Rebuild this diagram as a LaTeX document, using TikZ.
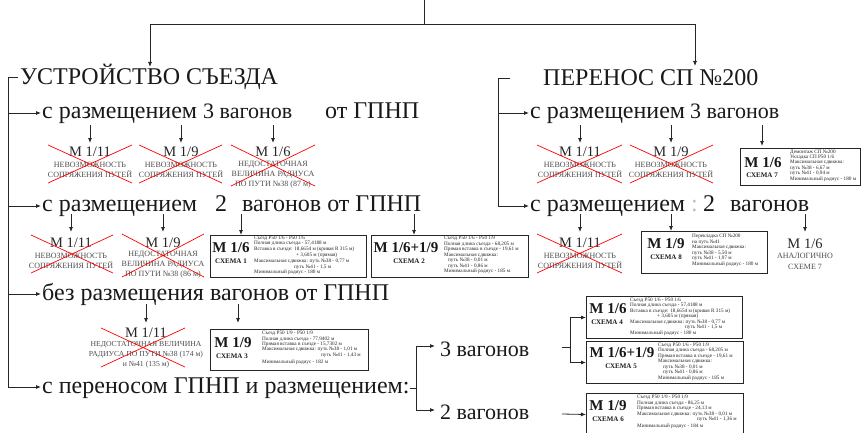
\documentclass[tikz,border=0pt]{standalone}
\usepackage{fontspec}
\setmainfont{Liberation Serif}
\usetikzlibrary{arrows.meta,calc}
\tikzset{
 arr/.style={-{Latex[length=5pt,width=4pt]}, line width=0.8pt, draw=black!85},
 ln/.style={line width=0.8pt, draw=black!85},
 hd/.style={font=\fontsize{24}{28}\selectfont, inner sep=0, anchor=base west, text=black!90},
 rowt/.style={font=\fontsize{24}{28}\selectfont, inner sep=0, anchor=base west, text=black!90},
 rows/.style={font=\fontsize{22}{26}\selectfont, inner sep=0, anchor=base west, text=black!90},
 xt/.style={font=\fontsize{14.5}{16}\selectfont, inner sep=0, anchor=base, text=black!85},
 xs/.style={font=\fontsize{8}{10.5}\selectfont, inner sep=0, anchor=north, text=black!70, align=center},
 xcross/.style={draw=red, line width=0.7pt},
 sbox/.style={draw=black!85, line width=1pt, inner sep=0, anchor=north west},
 bm/.style={font=\fontsize{15}{17}\selectfont\bfseries, inner sep=0, anchor=base, text=black!90},
 bs/.style={font=\fontsize{7}{8}\selectfont\bfseries, inner sep=0, anchor=base, text=black!90},
 st/.style={font=\fontsize{5.2}{5.8}\selectfont, inner sep=0, anchor=north west, align=left, text=black!85},
}
\begin{document}
\begin{tikzpicture}[x=1pt,y=-1pt]
\useasboundingbox (0,0) rectangle (861,433);

% ---------- headers ----------
\node[hd] (hdL) at (20,85) {УСТРОЙСТВО СЪЕЗДА};
\node[hd] (hdR) at (543,86) {ПЕРЕНОС СП №200};

\coordinate (t0) at (424,0);
\coordinate (t1) at (424,24);
\coordinate (tL) at (150,67);
\coordinate (tR) at (695,66);
\draw[ln] (t0) -- (t1);
\draw[arr] (t1) -| (tL);
\draw[arr] (t1) -| (tR);

% ---------- row texts ----------
\node[rowt] (L1a) at (42,118) {с размещением};
\node[rows] (L1b) at (203,118) {3 вагонов};
\node[rowt] (L1c) at (325,118) {от ГПНП};

\node[rowt] (L2a) at (42,211) {с размещением};
\node[rowt] (L2b) at (215,211) {2};
\node[rowt] (L2c) at (242,211) {вагонов от ГПНП};

\node[rowt] (L3a) at (42,300) {без размещения вагонов от ГПНП};
\node[rowt] (L4a) at (42,393) {с переносом ГПНП и размещением:};

\node[rowt] (R1a) at (530,118) {с размещением};
\node[rows] (R1b) at (690,118) {3 вагонов};

\node[rowt] (R2a) at (530,211) {с размещением};
\node[rowt, text=black!25] (R2c) at (691,211) {:};
\node[rowt] (R2b) at (703,211) {2};
\node[rowt] (R2d) at (730,211) {вагонов};

\node[rows] (v3) at (440,356) {3 вагонов};
\node[rows] (v2) at (440,419) {2 вагонов};

% ---------- brackets ----------
\coordinate (yA) at (0,113);
\coordinate (yB) at (0,206);
\coordinate (yC) at (0,294);
\coordinate (yD) at (0,387);
\coordinate (bL) at (8,77);
\draw[ln, shorten >=2pt] (bL) -- (bL -| hdL.west);
\draw[arr, shorten >=1pt] (bL |- yA) -- (L1a.west |- yA);
\draw[arr, shorten >=1pt] (bL |- yB) -- (L2a.west |- yB);
\draw[arr, shorten >=1pt] (bL |- yC) -- (L3a.west |- yC);
\draw[arr, shorten >=1pt] (bL) |- (L4a.west |- yD);

\coordinate (bR) at (498,78);
\draw[ln] (bR) -- ++(12,0);
\draw[arr, shorten >=1pt] (bR |- yA) -- (R1a.west |- yA);
\draw[arr, shorten >=1pt] (bR) |- (R2a.west |- yB);

% ---------- crossed items, row 1 ----------
\node[xt] (cL1a) at (90,156) {М 1/11};
\node[xs] (nL1a) at (90,161.5) {НЕВОЗМОЖНОСТЬ\\СОПРЯЖЕНИЯ ПУТЕЙ};
\draw[xcross] (48,145) -- (132,183) (48,183) -- (132,145);

\node[xt] (cL1b) at (181,156) {М 1/9};
\node[xs] (nL1b) at (181,161.5) {НЕВОЗМОЖНОСТЬ\\СОПРЯЖЕНИЯ ПУТЕЙ};
\draw[xcross] (139,145) -- (222,183) (139,183) -- (222,145);

\node[xt] (cL1c) at (273,156) {М 1/6};
\node[xs, font=\fontsize{8}{10}\selectfont] (nL1c) at (273,161) {НЕДОСТАТОЧНАЯ\\ВЕЛИЧИНА РАДИУСА\\ПО ПУТИ №38 (87 м)};
\draw[xcross] (231,145) -- (315,186) (231,186) -- (315,145);

\node[xt] (cR1a) at (580,156) {М 1/11};
\node[xs] (nR1a) at (580,161.5) {НЕВОЗМОЖНОСТЬ\\СОПРЯЖЕНИЯ ПУТЕЙ};
\draw[xcross] (537,145) -- (622,183) (537,183) -- (622,145);

\node[xt] (cR1b) at (671,156) {М 1/9};
\node[xs] (nR1b) at (671,161.5) {НЕВОЗМОЖНОСТЬ\\СОПРЯЖЕНИЯ ПУТЕЙ};
\draw[xcross] (630,145) -- (713,183) (630,183) -- (713,145);

% ---------- crossed items, row 2 ----------
\node[xt] (cL2a) at (71,247) {М 1/11};
\node[xs] (nL2a) at (71,252.5) {НЕВОЗМОЖНОСТЬ\\СОПРЯЖЕНИЯ ПУТЕЙ};
\draw[xcross] (31,235) -- (113,273) (31,273) -- (113,235);

\node[xt] (cL2b) at (163,247) {М 1/9};
\node[xs, font=\fontsize{8}{10}\selectfont] (nL2b) at (163,251) {НЕДОСТАТОЧНАЯ\\ВЕЛИЧИНА РАДИУСА\\ПО ПУТИ №38 (86 м)};
\draw[xcross] (122,234) -- (204,277) (122,277) -- (204,234);

\node[xt] (cR2a) at (580,247) {М 1/11};
\node[xs] (nR2a) at (580,252.5) {НЕВОЗМОЖНОСТЬ\\СОПРЯЖЕНИЯ ПУТЕЙ};
\draw[xcross] (537,234) -- (622,273) (537,273) -- (622,234);

\node[xt] (cR2c) at (805,248) {М 1/6};
\node[xs] (nR2c) at (805,253.5) {АНАЛОГИЧНО\\СХЕМЕ 7};

% ---------- crossed item, row 3 ----------
\node[xt] (cL3a) at (146,337) {М 1/11};
\node[xs, font=\fontsize{7.7}{9.8}\selectfont] (nL3a) at (146,341.5) {НЕДОСТАТОЧНАЯ ВЕЛИЧИНА\\РАДИУСА ПО ПУТИ №38 (174 м)\\и №41 (135 м)};
\draw[xcross] (101,328) -- (185,367) (101,367) -- (185,328);

% ---------- scheme boxes ----------
% Scheme 1
\node[sbox, minimum width=156, minimum height=42] (s1) at (210,235) {};
\node[bm] (m1) at (231,252) {М 1/6};
\node[bs] (k1) at (231,263) {СХЕМА 1};
\node[st] (t1b) at (254,235.5) {Съезд Р50 1/6 - Р50 1/6\\Полная длина съезда - 57,4188 м\\Вставка в съезде: 18,6654 м (кривая R 315 м)\\\hspace*{42pt}+ 3,605 м (прямая)\\Максимальная сдвижка: путь №38 - 0,77 м\\\hspace*{40pt}путь №41 - 1,5 м\\Минимальный радиус - 180 м};

% Scheme 2
\node[sbox, minimum width=157, minimum height=42] (s2) at (371,235) {};
\node[bm] (m2) at (406,252) {М 1/6+1/9};
\node[bs] (k2) at (409,263) {СХЕМА 2};
\node[st, font=\fontsize{5.2}{5.5}\selectfont] (t2b) at (444,236) {Съезд Р50 1/6 - Р50 1/9\\Полная длина съезда - 68,205 м\\Прямая вставка в съезде - 19,61 м\\Максимальная сдвижка:\\\hspace*{4pt}путь №38 - 0,01 м\\\hspace*{4pt}путь №41 - 0,86 м\\Минимальный радиус - 185 м};

% Scheme 3
\node[sbox, minimum width=158, minimum height=41] (s3) at (210,329) {};
\node[bm] (m3) at (233,347) {М 1/9};
\node[bs] (k3) at (232,358) {СХЕМА 3};
\node[st, font=\fontsize{5.2}{5.4}\selectfont] (t3b) at (262,331) {Съезд Р50 1/9 - Р50 1/9\\Полная длина съезда - 77,9402 м\\Прямая вставка в съезде - 15,7302 м\\Максимальная сдвижка: путь №38 - 1,01 м\\\hspace*{59pt}путь №41 - 1,43 м\\[1.5pt]Минимальный радиус - 182 м};

% Scheme 4
\node[sbox, minimum width=156, minimum height=42] (s4) at (586,296) {};
\node[bm] (m4) at (608,313) {М 1/6};
\node[bs] (k4) at (607,324) {СХЕМА 4};
\node[st, font=\fontsize{5.2}{5.5}\selectfont] (t4b) at (630,297.5) {Съезд Р50 1/6 - Р50 1/6\\Полная длина съезда - 57,4188 м\\Вставка в съезде: 18,6654 м (кривая R 315 м)\\\hspace*{27pt}+ 3,605 м (прямая)\\Максимальная сдвижка: путь №38 - 0,77 м\\\hspace*{55pt}путь №41 - 1,5 м\\Минимальный радиус - 180 м};

% Scheme 5
\node[sbox, minimum width=157, minimum height=42] (s5) at (586,341) {};
\node[bm] (m5) at (622,357) {М 1/6+1/9};
\node[bs] (k5) at (621,368) {СХЕМА 5};
\node[st, font=\fontsize{5.2}{5.5}\selectfont] (t5b) at (658,342.5) {Съезд Р50 1/6 - Р50 1/9\\Полная длина съезда - 68,205 м\\Прямая вставка в съезде - 19,61 м\\Максимальная сдвижка:\\\hspace*{5pt}путь №38 - 0,01 м\\\hspace*{5pt}путь №41 - 0,86 м\\Минимальный радиус - 185 м};

% Scheme 6
\node[sbox, minimum width=157, minimum height=42] (s6) at (586,393) {};
\node[bm] (m6) at (608,410) {М 1/9};
\node[bs] (k6) at (608,421) {СХЕМА 6};
\node[st, font=\fontsize{5.2}{5.5}\selectfont] (t6b) at (637,395) {Съезд Р50 1/9 - Р50 1/9\\Полная длина съезда - 86,25 м\\Прямая вставка в съезде - 24,13 м\\Максимальная сдвижка: путь №38 - 0,01 м\\\hspace*{60pt}путь №41 - 1,36 м\\[1.5pt]Минимальный радиус - 184 м};

% Scheme 7
\node[sbox, minimum width=120, minimum height=37] (s7) at (740,148) {};
\node[bm] (m7) at (763,167) {М 1/6};
\node[bs] (k7) at (762,177) {СХЕМА 7};
\node[st, font=\fontsize{5.2}{5.4}\selectfont] (t7b) at (790,149.5) {Демонтаж СП №200\\Укладка СП Р50 1/6\\Максимальная сдвижка:\\путь №38 - 6,67 м\\путь №41 - 0,94 м\\Минимальный радиус - 180 м};

% Scheme 8
\node[sbox, minimum width=126, minimum height=42] (s8) at (641,231) {};
\node[bm] (m8) at (666,248) {М 1/9};
\node[bs] (k8) at (666,259) {СХЕМА 8};
\node[st, font=\fontsize{5.2}{5.5}\selectfont] (t8b) at (692,234) {Перекладка СП №200\\на путь №41\\Максимальная сдвижка:\\путь №38 - 5,50 м\\путь №41 - 1,97 м\\Минимальный радиус - 180 м};

% ---------- down arrows ----------
\coordinate (dA) at (0,125);
\coordinate (eA) at (0,143);
\coordinate (dB) at (0,214);
\coordinate (eB) at (0,232);
\coordinate (dC) at (0,304);
\coordinate (eC) at (0,323);
\foreach \n in {cL1a,cL1b,cL1c,cR1a,cR1b} \draw[arr] (\n |- dA) -- (\n |- eA);
\foreach \n in {cL2a,cL2b,cR2a,cR2c} \draw[arr] (\n |- dB) -- (\n |- eB);
\draw[arr] (cL3a |- dC) -- (cL3a |- eC);

\coordinate (a1) at ($(s1.north west)+(31,0)$);
\coordinate (a2) at ($(s2.north west)+(43,0)$);
\coordinate (a3) at ($(s3.north west)+(28,0)$);
\coordinate (a7) at ($(s7.north west)+(22,0)$);
\coordinate (a8) at ($(s8.north west)+(30,0)$);
\draw[arr] (a1 |- dB) -- (a1);
\draw[arr] (a2 |- dB) -- (a2);
\draw[arr] (a8 |- dB) -- (a8);
\draw[arr] (a3 |- dC) -- (a3 |- eC);
\draw[arr, shorten >=2pt] (a7 |- dA) -- (a7);

% ---------- bottom branches ----------
\coordinate (j4) at (416,388);
\coordinate (yv3) at (0,346);
\coordinate (yv2) at (0,410);
\draw[ln] (L4a.east |- j4) -- (j4);
\draw[arr, shorten >=5pt] (j4) |- (v3.west |- yv3);
\draw[arr, shorten >=5pt] (j4) |- (v2.west |- yv2);

\coordinate (k3a) at (562,347);
\coordinate (k3b) at (570,347);
\draw[ln] (k3a) -- (k3b);
\draw[arr] (k3b) |- (s4.west);
\draw[arr] (k3b) |- (s5.west);
\coordinate (k2a) at (562,414);
\draw[arr] (k2a) -- (s6.west);
\end{tikzpicture}
\end{document}
